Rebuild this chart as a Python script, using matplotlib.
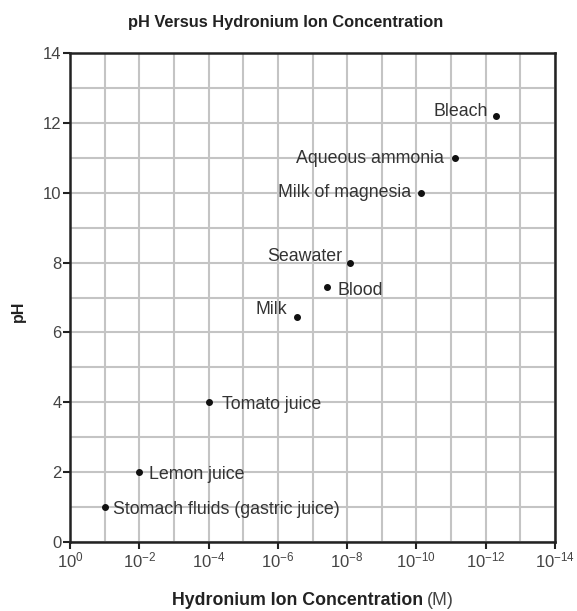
import matplotlib
matplotlib.use("Agg")
import matplotlib.pyplot as plt
from matplotlib.ticker import FixedLocator, LogFormatterMathtext, NullFormatter

plt.rcParams['font.family'] = ['Liberation Sans', 'DejaVu Sans']
plt.rcParams['mathtext.fontset'] = 'custom'
plt.rcParams['mathtext.rm'] = 'Liberation Sans'
plt.rcParams['mathtext.it'] = 'Liberation Sans:italic'

# Data
substances = ["Stomach fluids (gastric juice)", "Lemon juice", "Tomato juice", "Milk",
              "Blood", "Seawater", "Milk of magnesia", "Aqueous ammonia", "Bleach"]
concentration = [1e-1, 1e-2, 1e-4, 2.8e-7, 3.7e-8, 8.5e-9, 7.6e-11, 7.6e-12, 5.2e-13]
ph = [1.0, 2.0, 4.0, 6.45, 7.3, 8.0, 10.0, 11.0, 12.2]
label_side = ["right", "right", "right", "left", "right", "left", "left", "left", "left"]
x_major_exponents = [0, -2, -4, -6, -8, -10, -12, -14]
x_minor_exponents = [-1, -3, -5, -7, -9, -11, -13]
y_major = [0, 2, 4, 6, 8, 10, 12, 14]
y_minor = [1, 3, 5, 7, 9, 11, 13]

# label pixel offsets (dx, dy) per point
offsets = [(8, -2), (10, -2), (13, -2), (-10, 7), (10, -3), (-7, 6), (-9, 0), (-11, -1), (-8, 4)]

fig = plt.figure(figsize=(5.77, 6.11), dpi=100)
ax = fig.add_axes([0.1213, 0.1124, 0.8407, 0.8013])

ax.set_xscale('log')
ax.set_xlim(1, 1e-14)
ax.set_ylim(0, 14)

ax.xaxis.set_major_locator(FixedLocator([10.0 ** e for e in x_major_exponents]))
ax.xaxis.set_minor_locator(FixedLocator([10.0 ** e for e in x_minor_exponents]))
ax.xaxis.set_major_formatter(LogFormatterMathtext())
ax.xaxis.set_minor_formatter(NullFormatter())
ax.yaxis.set_major_locator(FixedLocator(y_major))
ax.yaxis.set_minor_locator(FixedLocator(y_minor))

ax.grid(True, which='both', color='#c4c4c4', linewidth=1.5, zorder=0)
ax.set_axisbelow(True)

for s in ax.spines.values():
    s.set_linewidth(1.8)
    s.set_color('#222222')

ax.tick_params(which='major', direction='out', length=5, width=1.5, color='#222222',
               labelsize=12, labelcolor='#444444', pad=1)
ax.tick_params(which='minor', length=0)

ax.scatter(concentration, ph, s=16, color='#111111', zorder=3)

for name, cx, cy, side, (dx, dy) in zip(substances, concentration, ph, label_side, offsets):
    ax.annotate(name, (cx, cy), xytext=(dx, dy), textcoords='offset pixels',
                ha='left' if side == 'right' else 'right', va='center',
                fontsize=12.8, color='#333333', zorder=4)

fig.text(0.495, 0.963, "pH Versus Hydronium Ion Concentration", ha='center', va='center',
         fontsize=11.8, fontweight='bold', color='#222222')
fig.text(0.032, 0.49, "pH", rotation=90, ha='center', va='center',
         fontsize=11.5, fontweight='bold', color='#222222')
t1 = fig.text(0.515, 0.018, "Hydronium Ion Concentration", ha='center', va='center',
              fontsize=12.8, fontweight='bold', color='#222222')
fig.canvas.draw()
bb = t1.get_window_extent()
fig.text((bb.x1 + 4) / fig.bbox.width, 0.018, "(M)", ha='left', va='center',
         fontsize=12.8, color='#444444')

fig.savefig("out.png", dpi=100)
